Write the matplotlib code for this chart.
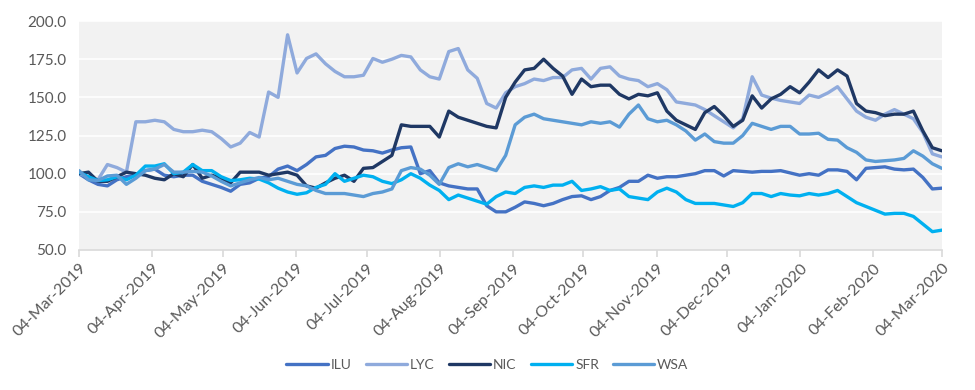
import numpy as np
import pandas as pd
import matplotlib
matplotlib.use('Agg')
import matplotlib.pyplot as plt
import matplotlib.dates as mdates

plt.rcParams['font.family'] = ['Lato', 'DejaVu Sans']

# Rebased share prices (04-Mar-2019 = 100), read at ~4-day steps
dates = pd.date_range('2019-03-04', '2020-03-04', periods=92)

ilu = [100, 96, 93, 92, 96, 98, 99, 102, 103, 99, 98, 99, 99, 95, 93, 91, 88.5, 93, 94, 97,
       98, 103, 105, 102, 106, 111, 112, 116.5, 118, 117.5, 115.5, 115, 113.5, 115.5, 117, 117.5, 100, 102, 94, 92,
       91, 90, 90, 79, 75, 75, 78, 81.5, 80.5, 79, 80.5, 83, 85, 85.5, 83, 85, 89, 91, 95, 95,
       99, 97, 98, 98, 99, 100, 102, 102, 98.5, 102, 101.5, 101, 101.5, 101.5, 102, 100.5, 99, 100, 99, 102.5,
       102.5, 101.5, 96, 103.5, 104, 104.5, 103, 102.5, 103, 97.5, 90, 90.5]

lyc = [100, 98, 96, 106, 104, 101, 134, 134, 135, 134, 129, 127.5, 127.5, 128.5, 127.5, 123, 117.5, 120, 127, 124,
       153.5, 150, 191, 166, 175.5, 178.5, 172, 167, 163.5, 163.5, 164.5, 175.5, 173, 175, 177.5, 176.5, 168, 163.5, 162, 180,
       182, 168, 162.5, 146, 143, 153, 157, 159, 162, 161, 163, 163, 168, 169, 162, 169, 170, 164, 162, 161,
       157, 159, 155, 147, 146, 145, 142, 138, 134, 130, 136, 163.5, 151.5, 149.5, 148, 147, 146, 151.5, 150, 153,
       157, 149, 141, 137, 135, 139, 142, 139, 136, 127, 113, 111]

nic = [100, 101, 95, 95, 98, 101, 100, 99, 97, 96, 100, 98, 106, 97, 99, 97, 94, 101, 101, 101,
       99, 100, 101, 99, 92, 90.5, 94, 97, 99, 95, 103.5, 104, 108, 112, 132, 131, 131, 131, 124, 141,
       137, 135, 133, 131, 130, 150, 160, 168, 169, 175, 169, 164, 152, 162, 157, 158, 158, 152, 149, 152,
       151, 153, 141, 135, 132, 129, 140, 144, 138, 131, 135, 151, 143, 149, 152, 157, 153, 160, 168, 163,
       168, 164, 146, 141, 140, 138, 139, 139, 141, 128, 117, 115]

sfr = [101, 98, 95.5, 96, 98, 96, 99, 105, 105, 106.5, 100, 101, 106, 102, 102, 98, 95.5, 96, 97, 96.5,
       94, 90.5, 88, 86.5, 87.5, 91, 93, 100, 95, 97, 99, 98, 95, 93.5, 96, 100, 97, 92.5, 89, 83,
       86, 84, 82, 80, 85, 88, 87, 91, 92, 91, 92.5, 92.5, 95, 89, 90, 91.5, 89, 90, 85, 84,
       83, 88, 90.5, 88, 83, 80.5, 80.5, 80.5, 79.5, 78.5, 81, 87, 87, 85, 87, 86, 85.5, 87, 86, 87,
       89, 85, 81, 78.5, 76, 73.5, 74, 74, 72, 67, 62, 63]

wsa = [102, 96, 95.5, 98.5, 99, 93, 97, 102, 103, 106, 101, 101, 101.5, 101, 98.5, 95, 92, 94, 96, 97.5,
       96, 97, 95, 93, 92, 89, 87, 87, 87, 86, 85, 87, 88, 90, 102, 104, 103, 99, 93, 104,
       106.5, 104.5, 106, 104, 102, 112, 132, 137, 139, 136, 135, 134, 133, 132, 134, 133, 134, 130.5, 139, 145,
       136, 134, 135, 132, 128, 122, 126, 121, 120, 120, 125, 133, 131, 129, 131, 131, 126, 126, 126.5, 122.5,
       122, 117, 114, 109, 108, 108.5, 109, 110, 115, 111.5, 106.5, 103.5]

series = ['ILU', 'LYC', 'NIC', 'SFR', 'WSA']
values = [ilu, lyc, nic, sfr, wsa]
colors = ['#4472c4', '#8faadc', '#1f3864', '#00b0f0', '#5b9bd5']

tick_dates = pd.date_range('2019-03-04', periods=13, freq=pd.DateOffset(months=1))

fig = plt.figure(figsize=(9.75, 3.9), dpi=100)
ax = fig.add_axes([0.081, 0.359, 0.885, 0.587])
ax.set_facecolor('#f2f2f2')

for name, vals, col in zip(series, values, colors):
    ax.plot(dates, vals, color=col, lw=2.4, label=name, solid_joinstyle='round', solid_capstyle='round')

ax.set_ylim(50, 200)
ax.set_yticks(np.arange(50, 201, 25))
ax.yaxis.set_major_formatter(matplotlib.ticker.FormatStrFormatter('%.1f'))
ax.set_xlim(dates[0], dates[-1])
ax.set_xticks(tick_dates)
ax.xaxis.set_major_formatter(mdates.DateFormatter('%d-%b-%Y'))

ax.grid(axis='y', color='white', lw=1.2)
ax.set_axisbelow(True)
for s in ['top', 'right', 'left']:
    ax.spines[s].set_visible(False)
ax.spines['bottom'].set_color('#d9d9d9')
ax.spines['bottom'].set_linewidth(1.2)

ax.tick_params(axis='y', length=0, labelsize=11, labelcolor='#595959', pad=9)
ax.tick_params(axis='x', length=5, color='#d9d9d9', width=1.2, labelsize=11.5, labelcolor='#595959', pad=3)
for lbl in ax.get_xticklabels():
    lbl.set_rotation(45)
    lbl.set_ha('right')
    lbl.set_rotation_mode('anchor')

fig.legend(loc='center', bbox_to_anchor=(0.5, 0.064), ncol=5, frameon=False,
           fontsize=10, handlelength=3.0, handletextpad=0.2, columnspacing=1.0,
           labelcolor='#595959')

fig.savefig('out.png', dpi=100)
